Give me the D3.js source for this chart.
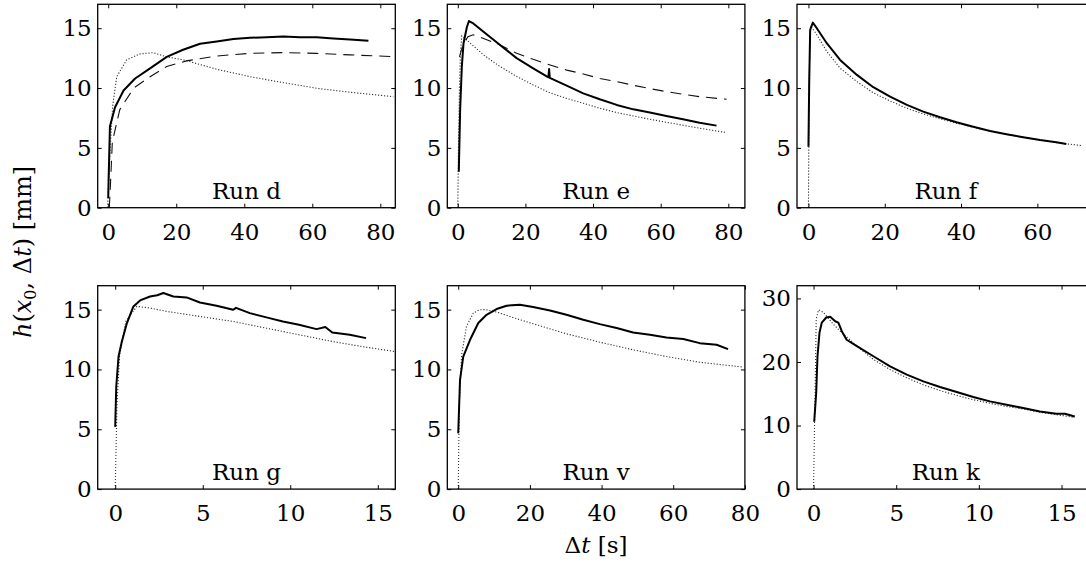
<!DOCTYPE html>
<html>
<head>
<script src="https://d3js.org/d3.v7.min.js"></script>
<style>
  body { margin: 0; background: #fff; }
  text { font-family: "DejaVu Serif", "Liberation Serif", serif; fill: #000; }
</style>
</head>
<body>
<div id="chart"></div>
<script>
// panel names and axes
var runNames = ["Run d", "Run e", "Run f", "Run g", "Run v", "Run k"];
var xDomains = [[-3.1, 84.4], [-3.1, 84.9], [-3, 75], [-1, 16], [-3.05, 80], [-1, 17]];
var yDomains = [[0, 17], [0, 17], [0, 17], [0, 17], [0, 17], [0, 32]];
var xTickVals = [[0, 20, 40, 60, 80], [0, 20, 40, 60, 80], [0, 20, 40, 60], [0, 5, 10, 15], [0, 20, 40, 60, 80], [0, 5, 10, 15]];
var yTickVals = [[0, 5, 10, 15], [0, 5, 10, 15], [0, 5, 10, 15], [0, 5, 10, 15], [0, 5, 10, 15], [0, 10, 20, 30]];

// measured data (solid)
var obsD = [[0,0.8],[0.1,2.3],[0.5,6.8],[2,8.4],[4.5,9.8],[7.9,10.8],[12.3,11.65],[17.2,12.6],[22,13.2],[27,13.7],[31.9,13.9],[36.8,14.1],[41.7,14.2],[46.6,14.25],[51.5,14.3],[56.4,14.25],[61.3,14.25],[66.2,14.15],[71.1,14.05],[76.5,13.95]];
var obsE = [[0.3,3],[0.7,8.2],[1.2,11.8],[1.7,13.75],[2.7,15.1],[3.3,15.6],[4.6,15.4],[7.6,14.7],[12.5,13.6],[17.4,12.5],[22.3,11.65],[26.8,10.9],[27,11.6],[27.2,10.85],[32.2,10.2],[37.1,9.56],[42,9.06],[47,8.59],[51.9,8.22],[56.8,7.95],[61.7,7.67],[66.6,7.39],[71.5,7.1],[76.5,6.86]];
var obsF = [[0,5.1],[0.2,10.5],[0.45,14.86],[1.15,15.47],[2.2,15.0],[4.8,13.75],[8.3,12.35],[12.7,11.1],[17,10.07],[21.4,9.28],[25.8,8.59],[30.1,8.03],[34.5,7.56],[38.8,7.14],[43.2,6.77],[47.6,6.41],[51.9,6.14],[56.3,5.89],[60.7,5.66],[65,5.47],[67.6,5.33]];
var obsG = [[0,5.2],[0.06,8.57],[0.19,11.08],[0.38,12.34],[0.67,13.88],[1.04,15.27],[1.42,15.77],[1.99,16.1],[2.4,16.2],[2.75,16.39],[3.32,16.1],[4.08,16.02],[4.84,15.6],[5.79,15.33],[6.74,14.99],[6.9,15.15],[7.69,14.71],[8.64,14.35],[9.58,14.01],[10.5,13.74],[11.5,13.37],[12,13.55],[12.4,13.09],[13.4,12.9],[14.33,12.62]];
var obsV = [[0,4.66],[0.5,9.13],[1.4,11.08],[3.3,12.48],[5.6,13.88],[7.9,14.57],[10.7,15.05],[13.5,15.33],[17.2,15.41],[20.9,15.22],[25.6,14.93],[30.2,14.57],[34.9,14.15],[39.5,13.79],[44.2,13.46],[48.8,13.09],[53.5,12.9],[58.1,12.67],[62.8,12.54],[67.4,12.2],[72.1,12.06],[75.3,11.7]];
var obsK = [[0.04,10.6],[0.16,15.1],[0.24,20.9],[0.36,24.6],[0.5,26.2],[0.77,27],[1.01,27.1],[1.31,26.4],[1.5,26.2],[1.71,24.85],[2.0,23.5],[2.62,22.5],[3.62,20.9],[4.63,19.3],[5.64,18.0],[6.64,16.95],[7.65,16.06],[8.66,15.27],[9.66,14.49],[10.67,13.8],[11.68,13.27],[12.68,12.75],[13.69,12.21],[14.7,11.85],[15.2,11.85],[15.8,11.42]];

// model curves (dotted)
var modD = [[-0.2,0],[0.6,5.1],[1.3,8.5],[2.5,10.95],[5.4,12.35],[9.3,12.85],[13.2,12.96],[17.2,12.6],[22.2,12.35],[31.9,11.57],[41.7,10.95],[51.5,10.45],[61.3,9.98],[71.1,9.65],[83.8,9.28]];
var modE = [[0,0],[0.2,5],[0.5,10],[0.8,13],[1.2,14.36],[2.7,14.0],[7.6,12.77],[12.5,11.8],[17.4,10.97],[22.3,10.26],[27.3,9.6],[32.2,9.13],[37.1,8.73],[42,8.31],[47,7.95],[51.9,7.67],[56.8,7.39],[61.7,7.14],[66.6,6.89],[71.5,6.64],[79,6.3]];
var modF = [[0,0],[0.2,11.2],[0.6,15.2],[2.2,14.45],[4.8,13.06],[8.3,11.66],[12.7,10.54],[17,9.6],[21.4,8.92],[25.8,8.31],[30.1,7.84],[34.5,7.42],[38.8,7.06],[43.2,6.72],[47.6,6.41],[51.9,6.14],[56.3,5.89],[60.7,5.66],[65,5.44],[71.6,5.19]];
var modG = [[0,0],[0.1,7],[0.25,11.2],[0.6,14],[1.23,15.27],[2,15.13],[2.94,14.85],[4.84,14.43],[6.74,14.01],[8.64,13.45],[10.5,12.9],[12.4,12.34],[14.33,11.86],[15.95,11.5]];
var modV = [[0,0],[0.28,7],[0.93,11.2],[2.3,13.6],[4.2,14.71],[6,14.99],[7.6,15.0],[10.7,14.8],[16.3,14.24],[20.9,13.82],[30.2,12.98],[39.5,12.28],[48.8,11.64],[58.1,11.08],[67.4,10.6],[79.5,10.2]];
var modK = [[0,0],[0.1,16.5],[0.16,26.7],[0.3,28.2],[0.6,27.8],[1.21,25.9],[1.61,24.85],[2.62,22.5],[3.62,20.4],[4.63,18.8],[5.64,17.5],[6.64,16.4],[7.65,15.5],[8.66,14.75],[9.66,14.06],[10.67,13.5],[11.68,13.0],[12.68,12.6],[13.69,12.1],[14.7,11.7],[15.8,11.27]];

// second model (dashed), only runs d and e
var altD = [[0.3,0],[0.6,1.6],[1.2,5.5],[3.4,8.2],[7.5,10],[12.3,10.95],[17.2,11.8],[23,12.27],[31.9,12.68],[41.7,12.9],[51.5,12.96],[61.3,12.9],[71.1,12.77],[83.8,12.63]];
var altE = [[0.5,12.6],[1.5,13.6],[3,14.3],[4.6,14.45],[7.6,14.15],[12.5,13.6],[17.4,12.9],[22.3,12.4],[27.3,11.93],[32.2,11.5],[37.1,11.18],[42,10.8],[47,10.54],[51.9,10.23],[56.8,9.95],[61.7,9.7],[66.6,9.48],[71.5,9.28],[79.5,9.06]];

var observed = [obsD, obsE, obsF, obsG, obsV, obsK];
var modelled = [modD, modE, modF, modG, modV, modK];
var alternate = [altD, altE, null, null, null, null];

var W = 1086, H = 563;
var colX = [97.7, 447.3, 797], rowY = [4.3, 285.7];
var pw = 297.6, ph = 203.4;
var fs = 23;

var svg = d3.select("#chart").append("svg").attr("width", W).attr("height", H);

runNames.forEach(function(name, i) {
  var col = i % 3, row = Math.floor(i / 3);
  var g = svg.append("g").attr("transform", "translate(" + colX[col] + "," + rowY[row] + ")");
  var x = d3.scaleLinear().domain(xDomains[i]).range([0, pw]);
  var y = d3.scaleLinear().domain(yDomains[i]).range([ph, 0]);

  g.append("clipPath").attr("id", "clip" + i)
    .append("rect").attr("width", pw).attr("height", ph);

  var line = d3.line().x(function(d) { return x(d[0]); }).y(function(d) { return y(d[1]); });
  var plot = g.append("g").attr("clip-path", "url(#clip" + i + ")");

  plot.append("path").datum(modelled[i]).attr("d", line)
    .attr("fill", "none").attr("stroke", "#333").attr("stroke-width", 1.1)
    .attr("stroke-dasharray", "1.2,1.8");
  if (alternate[i]) {
    plot.append("path").datum(alternate[i]).attr("d", line)
      .attr("fill", "none").attr("stroke", "#111").attr("stroke-width", 1.1)
      .attr("stroke-dasharray", "11,7");
  }
  plot.append("path").datum(observed[i]).attr("d", line)
    .attr("fill", "none").attr("stroke", "#000").attr("stroke-width", 2)
    .attr("stroke-linejoin", "round");

  // axes with inward ticks
  g.append("g").attr("transform", "translate(0," + ph + ")")
    .call(d3.axisBottom(x).tickValues(xTickVals[i]).tickSize(-4).tickPadding(16).tickFormat(d3.format("d")));
  g.append("g")
    .call(d3.axisLeft(y).tickValues(yTickVals[i]).tickSize(-4).tickPadding(6).tickFormat(d3.format("d")));
  g.append("g").call(d3.axisTop(x).tickValues(xTickVals[i]).tickSize(-4).tickFormat(""));
  g.append("g").attr("transform", "translate(" + pw + ",0)")
    .call(d3.axisRight(y).tickValues(yTickVals[i]).tickSize(-4).tickFormat(""));
  g.selectAll(".domain").remove();
  g.selectAll(".tick line").attr("stroke", "#000").attr("stroke-width", 1);
  g.selectAll(".tick text").attr("font-size", fs).attr("font-family", null);

  g.append("rect").attr("width", pw).attr("height", ph)
    .attr("fill", "none").attr("stroke", "#000").attr("stroke-width", 1.3);

  g.append("text").attr("x", pw / 2).attr("y", ph - 9)
    .attr("text-anchor", "middle").attr("font-size", fs).text(name);
});

// y axis title
var yt = svg.append("text").attr("transform", "translate(31,252) rotate(-90)")
  .attr("text-anchor", "middle").attr("font-size", 24);
yt.append("tspan").attr("font-style", "italic").text("h");
yt.append("tspan").text("(");
yt.append("tspan").attr("font-style", "italic").text("x");
yt.append("tspan").attr("font-size", 16).attr("dy", 5).text("0");
yt.append("tspan").attr("dy", -5).text(", Δ");
yt.append("tspan").attr("font-style", "italic").text("t");
yt.append("tspan").text(")  [mm]");

// x axis title
var xt = svg.append("text").attr("x", 596).attr("y", 553)
  .attr("text-anchor", "middle").attr("font-size", fs);
xt.append("tspan").text("Δ");
xt.append("tspan").attr("font-style", "italic").text("t");
xt.append("tspan").text(" [s]");
</script>
</body>
</html>
